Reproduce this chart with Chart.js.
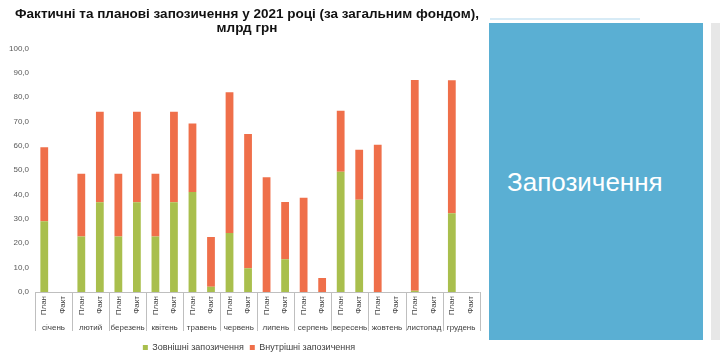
<!DOCTYPE html>
<html>
<head>
<meta charset="utf-8">
<script src="https://cdn.jsdelivr.net/npm/chart.js@4"></script>
<style>
  html, body { margin: 0; padding: 0; background: #ffffff; }
  body { width: 720px; height: 356px; position: relative; overflow: hidden; font-family: "Liberation Sans", Arial, sans-serif; }
  #wrap { position: absolute; left: 0; top: 0; width: 484px; height: 356px; }
  #topline { position: absolute; left: 490px; top: 18px; width: 150px; height: 2px; background: #d7ebf6; }
  #box { position: absolute; left: 489px; top: 23px; width: 214px; height: 317px; background: #5aafd3; }
  #box span { position: absolute; left: 18px; top: 144px; line-height: 30px; color: #ffffff; font-size: 26px; font-family: "Liberation Sans", Arial, sans-serif; }
  #side { position: absolute; left: 711px; top: 23px; width: 9px; height: 317px; background: #e7e7e7; }
</style>
</head>
<body>
<div id="wrap"><canvas id="c" width="484" height="356"></canvas></div>
<div id="topline"></div>
<div id="box"><span>Запозичення</span></div>
<div id="side"></div>
<script>
// ---- data ----
const months = ['січень','лютий','березень','квітень','травень','червень','липень','серпень','вересень','жовтень','листопад','грудень'];
const subLabels = ['План','Факт'];
const extPlan = [29.0, 22.8, 22.8, 22.8, 41.0, 24.2, 0, 0, 49.4, 0, 0.5, 32.3];
const extFact = [0, 36.8, 36.8, 36.8, 2.2, 9.7, 13.4, 0, 37.9, 0, 0, 0];
const intPlan = [30.4, 25.7, 25.7, 25.7, 28.2, 57.8, 47.1, 38.7, 25.0, 60.4, 86.5, 54.6];
const intFact = [0, 37.2, 37.2, 37.2, 20.4, 55.1, 23.5, 5.7, 20.5, 0, 0, 0];
const seriesNames = ['Зовнішні запозичення', 'Внутрішні запозичення'];
const titleLines = ['Фактичні та планові запозичення у 2021 році (за загальним фондом),', 'млрд грн'];

// interleave plan/fact
const labels = [];
const extData = [];
const intData = [];
months.forEach((m, i) => {
  labels.push(subLabels[0], subLabels[1]);
  extData.push(extPlan[i], extFact[i]);
  intData.push(intPlan[i], intFact[i]);
});

const FONT = '"Liberation Sans", Arial, sans-serif';

const monthPlugin = {
  id: 'monthPlugin',
  afterLayout(chart) {
    if (chart.legend) {
      chart.legend.top += 6;
      chart.legend.bottom += 6;
      chart.legend.left += 8;
      chart.legend.right += 8;
    }
    if (chart.titleBlock) {
      chart.titleBlock.left += 6;
      chart.titleBlock.right += 6;
    }
  },
  afterDraw(chart) {
    const ctx = chart.ctx;
    const x = chart.scales.x;
    const area = chart.chartArea;
    const y0 = area.bottom;
    ctx.save();
    ctx.strokeStyle = '#bfbfbf';
    ctx.lineWidth = 1;
    ctx.beginPath();
    ctx.moveTo(x.left, Math.round(y0) + 0.5);
    ctx.lineTo(x.right, Math.round(y0) + 0.5);
    ctx.stroke();
    const bounds = [];
    for (let i = 0; i <= months.length; i++) {
      let bx;
      if (i === 0) bx = x.left;
      else if (i === months.length) bx = x.right;
      else bx = (x.getPixelForValue(2 * i - 1) + x.getPixelForValue(2 * i)) / 2;
      bounds.push(bx);
      ctx.beginPath();
      ctx.moveTo(Math.round(bx) + 0.5, y0);
      ctx.lineTo(Math.round(bx) + 0.5, y0 + 39);
      ctx.stroke();
    }
    ctx.fillStyle = '#404040';
    ctx.font = '8px ' + FONT;
    ctx.textAlign = 'center';
    ctx.textBaseline = 'middle';
    months.forEach((m, i) => {
      ctx.fillText(m, (bounds[i] + bounds[i + 1]) / 2, y0 + 36);
    });
    ctx.restore();
  }
};

new Chart(document.getElementById('c'), {
  type: 'bar',
  data: {
    labels: labels,
    datasets: [
      { label: seriesNames[0], data: extData, backgroundColor: '#a9bf4d', barPercentage: 0.42, categoryPercentage: 1.0 },
      { label: seriesNames[1], data: intData, backgroundColor: '#ef6f4a', barPercentage: 0.42, categoryPercentage: 1.0 }
    ]
  },
  options: {
    responsive: false,
    animation: false,
    layout: { padding: { left: 0, right: 2, top: 0, bottom: 0 } },
    plugins: {
      title: {
        display: true,
        text: titleLines,
        color: '#111111',
        font: { family: FONT, size: 13.5, weight: 'bold', lineHeight: 1.05 },
        padding: { top: 7, bottom: 13 }
      },
      legend: {
        position: 'bottom',
        labels: {
          color: '#404040',
          font: { family: FONT, size: 9 },
          boxWidth: 5,
          boxHeight: 5,
          padding: 6
        }
      },
      tooltip: { enabled: false }
    },
    scales: {
      x: {
        stacked: true,
        grid: { display: false, drawTicks: false },
        border: { display: false },
        ticks: {
          color: '#404040',
          font: { family: FONT, size: 8 },
          minRotation: 90,
          maxRotation: 90,
          autoSkip: false,
          padding: 4
        },
        afterFit(scale) { scale.height = 39; }
      },
      y: {
        stacked: true,
        min: 0,
        max: 100,
        grid: { display: false, drawTicks: false },
        border: { display: false },
        ticks: {
          stepSize: 10,
          color: '#595959',
          font: { family: FONT, size: 8 },
          padding: 6,
          callback: (v) => Number(v).toFixed(1).replace('.', ',')
        },
        afterFit(scale) { scale.width = 35; }
      }
    }
  },
  plugins: [monthPlugin]
});
</script>
</body>
</html>
